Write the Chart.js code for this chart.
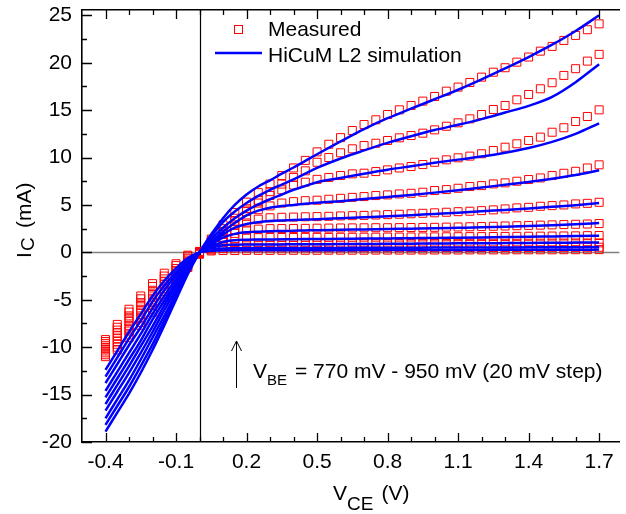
<!DOCTYPE html>
<html>
<head>
<meta charset="utf-8">
<script src="https://cdn.jsdelivr.net/npm/chart.js@4.4.1/dist/chart.umd.min.js"></script>
<style>
  html, body { margin: 0; padding: 0; background: #ffffff; }
  #wrap { width: 626px; height: 514px; }
</style>
</head>
<body>
<div id="wrap"><canvas id="c" width="626" height="514"></canvas></div>
<script>
// ---------- data ----------
const vbeLabels = ['770 mV','790 mV','810 mV','830 mV','850 mV','870 mV','890 mV','910 mV','930 mV','950 mV'];

const xTickVals   = [-0.4, -0.1, 0.2, 0.5, 0.8, 1.1, 1.4, 1.7];
const xTickLabels = ['-0.4', '-0.1', '0.2', '0.5', '0.8', '1.1', '1.4', '1.7'];
const yTickVals   = [-20, -15, -10, -5, 0, 5, 10, 15, 20, 25];
const yTickLabels = ['-20', '-15', '-10', '-5', '0', '5', '10', '15', '20', '25'];

// Measured VCE points (V)
const measX = [-0.4,-0.35,-0.3,-0.25,-0.2,-0.15,-0.1,-0.05,0,
  0.05,0.1,0.15,0.2,0.25,0.3,0.35,0.4,0.45,0.5,0.55,0.6,0.65,0.7,0.75,0.8,0.85,0.9,0.95,1.0,
  1.05,1.1,1.15,1.2,1.25,1.3,1.35,1.4,1.45,1.5,1.55,1.6,1.65,1.7];

// Measured IC (mA), one array per VBE
const meas770 = [-9.2,-7.6,-6.0,-4.6,-3.3,-2.2,-1.2,-0.3,0.1,
  0.15,0.2,0.2,0.21,0.21,0.21,0.22,0.22,0.22,0.22,0.23,0.23,0.23,0.23,0.24,0.24,0.24,0.24,0.25,0.25,
  0.25,0.25,0.26,0.26,0.26,0.26,0.27,0.27,0.27,0.27,0.28,0.28,0.28,0.29];
const meas790 = [-9.4,-7.9,-6.3,-4.9,-3.6,-2.5,-1.4,-0.4,0.05,
  0.25,0.42,0.46,0.47,0.47,0.47,0.47,0.48,0.48,0.48,0.48,0.48,0.49,0.49,0.49,0.49,0.49,0.5,0.5,0.5,
  0.5,0.51,0.51,0.51,0.51,0.52,0.52,0.52,0.52,0.53,0.53,0.53,0.54,0.54];
const meas810 = [-9.6,-8.2,-6.7,-5.3,-4.0,-2.8,-1.7,-0.6,0,
  0.35,0.75,0.86,0.88,0.89,0.89,0.9,0.9,0.9,0.91,0.91,0.91,0.92,0.92,0.92,0.93,0.93,0.93,0.94,0.94,
  0.94,0.95,0.95,0.95,0.96,0.96,0.96,0.97,0.97,0.98,0.98,0.99,0.99,1.0];
const meas830 = [-9.8,-8.5,-7.0,-5.6,-4.3,-3.1,-1.9,-0.7,0,
  0.45,1.1,1.45,1.53,1.55,1.56,1.57,1.57,1.58,1.58,1.58,1.59,1.59,1.6,1.6,1.61,1.61,1.62,1.63,1.63,
  1.64,1.65,1.66,1.66,1.67,1.68,1.69,1.7,1.71,1.72,1.73,1.74,1.76,1.78];
const meas850 = [-10.0,-8.8,-7.3,-6.0,-4.6,-3.4,-2.2,-0.9,-0.05,
  0.5,1.3,2.0,2.35,2.45,2.5,2.51,2.52,2.53,2.55,2.56,2.57,2.58,2.59,2.6,2.6,2.61,2.62,2.63,2.64,
  2.66,2.68,2.7,2.72,2.75,2.78,2.81,2.84,2.87,2.9,2.93,2.96,2.99,3.04];
const meas870 = [-10.2,-9.1,-7.7,-6.3,-5.0,-3.8,-2.4,-1.0,-0.05,
  0.6,1.5,2.4,3.1,3.5,3.65,3.7,3.72,3.75,3.77,3.8,3.84,3.87,3.9,3.94,3.98,4.02,4.07,4.12,4.17,
  4.23,4.29,4.34,4.4,4.48,4.58,4.69,4.75,4.86,4.93,5.0,5.11,5.17,5.28];
const meas890 = [-10.4,-9.4,-8.0,-6.7,-5.3,-4.1,-2.6,-1.2,-0.1,
  0.8,1.9,2.9,3.8,4.5,4.9,5.2,5.35,5.45,5.5,5.6,5.7,5.8,5.88,5.99,6.06,6.16,6.23,6.34,6.52,
  6.62,6.76,6.94,7.04,7.22,7.33,7.5,7.68,7.85,8.1,8.34,8.55,8.9,9.23];
const meas910 = [-10.6,-9.7,-8.3,-7.0,-5.6,-4.4,-2.9,-1.3,-0.1,
  1.0,2.2,3.3,4.3,5.2,6.0,6.6,7.1,7.4,7.7,7.9,8.1,8.28,8.35,8.52,8.7,8.9,9.05,9.26,9.5,
  9.76,9.97,10.15,10.4,10.74,11.09,11.45,11.8,12.15,12.67,13.14,13.8,14.33,15.03];
const meas930 = [-10.8,-10.0,-8.7,-7.4,-6.0,-4.7,-3.1,-1.5,-0.15,
  1.2,2.5,3.6,4.6,5.5,6.4,7.2,7.9,8.6,9.5,10.0,10.5,10.92,11.27,11.51,11.8,12.08,12.32,12.57,12.92,
  13.3,13.66,14.08,14.54,15.07,15.49,16.09,16.65,17.25,17.89,18.66,19.37,20.17,20.88];
const meas950 = [-11.0,-10.3,-9.0,-7.7,-6.3,-5.0,-3.4,-1.6,-0.2,
  1.4,2.9,4.2,5.3,6.3,7.2,8.1,8.9,9.7,10.6,11.4,12.1,12.85,13.48,13.98,14.54,15.03,15.49,15.95,16.44,
  17.0,17.43,17.92,18.48,19.0,19.47,20.06,20.6,21.22,21.72,22.35,22.88,23.48,24.1];

// Simulation VCE points (V)
const simX = [-0.4,-0.35,-0.3,-0.25,-0.2,-0.15,-0.1,-0.05,0,
  0.025,0.05,0.1,0.15,0.2,0.25,0.3,0.35,0.4,0.45,0.5,
  0.6,0.7,0.8,0.9,1.0,1.1,1.2,1.3,1.4,1.5,1.6,1.7];

// HiCuM L2 simulated IC (mA), one array per VBE
const sim770 = [-12.4,-10.4,-8.4,-6.5,-4.6,-3.0,-1.7,-0.6,0,
  0.1,0.17,0.2,0.21,0.21,0.21,0.22,0.22,0.22,0.22,0.23,
  0.23,0.24,0.24,0.25,0.25,0.26,0.26,0.27,0.27,0.28,0.28,0.29];
const sim790 = [-13.1,-11.1,-9.1,-7.2,-5.2,-3.5,-2.1,-0.8,0,
  0.2,0.35,0.42,0.44,0.45,0.45,0.46,0.46,0.46,0.46,0.47,
  0.47,0.48,0.48,0.49,0.5,0.5,0.51,0.52,0.53,0.54,0.55,0.56];
const sim810 = [-13.8,-11.8,-9.8,-7.9,-5.9,-4.0,-2.4,-1.0,0,
  0.25,0.5,0.75,0.8,0.82,0.83,0.84,0.84,0.85,0.85,0.86,
  0.88,0.89,0.9,0.92,0.93,0.95,0.96,0.98,1.0,1.01,1.03,1.05];
const sim830 = [-14.6,-12.6,-10.6,-8.6,-6.5,-4.6,-2.8,-1.2,0,
  0.3,0.6,1.1,1.28,1.33,1.35,1.36,1.37,1.39,1.4,1.41,
  1.43,1.45,1.47,1.5,1.52,1.55,1.58,1.61,1.64,1.68,1.72,1.76];
const sim850 = [-15.3,-13.3,-11.3,-9.3,-7.1,-5.1,-3.2,-1.4,0,
  0.4,0.8,1.55,1.95,2.12,2.18,2.22,2.25,2.28,2.31,2.34,
  2.38,2.42,2.46,2.5,2.54,2.59,2.64,2.7,2.78,2.86,2.96,3.1];
const sim870 = [-16.0,-14.0,-12.0,-9.9,-7.8,-5.6,-3.5,-1.5,0,
  0.45,0.95,1.9,2.6,3.0,3.18,3.3,3.37,3.42,3.46,3.5,
  3.6,3.7,3.8,3.92,4.05,4.18,4.33,4.48,4.63,4.8,4.98,5.2];
const sim890 = [-16.7,-14.7,-12.7,-10.6,-8.4,-6.1,-3.9,-1.7,0,
  0.55,1.1,2.2,3.1,3.9,4.4,4.7,4.88,5.0,5.12,5.22,
  5.4,5.62,5.84,6.06,6.3,6.56,6.84,7.12,7.42,7.76,8.16,8.65];
const sim910 = [-17.5,-15.5,-13.5,-11.3,-9.0,-6.7,-4.3,-1.9,0,
  0.7,1.4,2.6,3.6,4.4,5.05,5.6,6.1,6.6,7.0,7.4,
  7.85,8.3,8.72,9.08,9.44,9.78,10.1,10.5,11.0,11.65,12.5,13.6];
const sim930 = [-18.2,-16.2,-14.2,-12.0,-9.7,-7.2,-4.6,-2.1,0,
  0.9,1.7,3.2,4.3,5.2,5.95,6.6,7.15,7.7,8.3,8.9,
  9.9,10.75,11.55,12.25,12.9,13.45,14.05,14.75,15.45,16.4,17.95,19.85];
const sim950 = [-18.9,-16.9,-14.9,-12.7,-10.3,-7.7,-5.0,-2.3,0,
  1.0,1.9,3.6,5.0,6.1,6.95,7.6,8.3,8.95,9.65,10.35,
  11.7,13.0,14.15,15.15,16.15,17.15,18.25,19.4,20.6,21.9,23.35,25.0];

const measSeries = [meas770, meas790, meas810, meas830, meas850, meas870, meas890, meas910, meas930, meas950];
const simSeries  = [sim770, sim790, sim810, sim830, sim850, sim870, sim890, sim910, sim930, sim950];

// ---------- chart ----------
const FONT = '"Liberation Sans", Arial, Helvetica, sans-serif';
const X_MIN = -0.5, X_MAX = 1.786, Y_MIN = -20, Y_MAX = 25.56;

const datasets = [];
simSeries.forEach((s, i) => {
  datasets.push({
    label: 'HiCuM L2 simulation ' + vbeLabels[i],
    data: simX.map((x, j) => ({ x: x, y: s[j] })),
    showLine: true,
    borderColor: '#0000ff',
    borderWidth: 2.5,
    pointRadius: 0,
    cubicInterpolationMode: 'monotone',
    order: 0
  });
});
measSeries.forEach((s, i) => {
  datasets.push({
    label: 'Measured ' + vbeLabels[i],
    data: measX.map((x, j) => ({ x: x, y: s[j] })),
    showLine: false,
    pointStyle: 'rect',
    pointRadius: 5.66,
    borderColor: '#ff0000',
    backgroundColor: 'rgba(0,0,0,0)',
    borderWidth: 1,
    order: 1
  });
});

function drawSub(ctx, parts) {
  parts.forEach(p => {
    ctx.font = p[3] + 'px ' + FONT;
    ctx.fillText(p[0], p[1], p[2]);
  });
}

const decor = {
  id: 'decor',
  beforeDatasetsDraw(chart) {
    const { ctx, chartArea: a, scales } = chart;
    const x = scales.x, y = scales.y;
    ctx.save();
    const y0 = Math.round(y.getPixelForValue(0)) + 0.5;
    ctx.strokeStyle = '#808080';
    ctx.lineWidth = 1.6;
    ctx.beginPath(); ctx.moveTo(a.left, y0); ctx.lineTo(a.right, y0); ctx.stroke();
    const x0 = Math.round(x.getPixelForValue(0)) + 0.5;
    ctx.strokeStyle = '#000000';
    ctx.lineWidth = 1.2;
    ctx.beginPath(); ctx.moveTo(x0, a.top); ctx.lineTo(x0, a.bottom); ctx.stroke();
    ctx.restore();
  },
  afterDraw(chart) {
    const { ctx, chartArea: a, scales } = chart;
    const x = scales.x, y = scales.y;
    ctx.save();
    ctx.strokeStyle = '#000';
    ctx.lineWidth = 1.3;
    ctx.beginPath();
    for (let k = -4; k <= 17; k++) {
      const v = k / 10;
      const px = Math.round(x.getPixelForValue(v)) + 0.5;
      const major = xTickVals.some(t => Math.abs(t - v) < 1e-6);
      const len = major ? 9 : 5;
      ctx.moveTo(px, a.bottom); ctx.lineTo(px, a.bottom - len);
      ctx.moveTo(px, a.top); ctx.lineTo(px, a.top + len);
    }
    for (let k = -8; k <= 10; k++) {
      const v = k * 2.5;
      const py = Math.round(y.getPixelForValue(v)) + 0.5;
      const major = yTickVals.indexOf(v) >= 0;
      const len = major ? 10 : 5;
      ctx.moveTo(a.left, py); ctx.lineTo(a.left + len, py);
    }
    ctx.stroke();

    // legend
    ctx.fillStyle = '#000';
    ctx.textBaseline = 'alphabetic';
    ctx.textAlign = 'left';
    ctx.strokeStyle = '#ff0000';
    ctx.lineWidth = 1;
    ctx.strokeRect(234.5, 25.5, 8, 8);
    ctx.font = '21px ' + FONT;
    ctx.fillText('Measured', 268, 35.5);
    ctx.strokeStyle = '#0000ff';
    ctx.lineWidth = 2.5;
    ctx.beginPath(); ctx.moveTo(215, 53); ctx.lineTo(262, 53); ctx.stroke();
    ctx.fillText('HiCuM L2 simulation', 268, 61.5);

    // annotation arrow + text
    ctx.strokeStyle = '#000';
    ctx.lineWidth = 1;
    ctx.beginPath();
    ctx.moveTo(236.5, 388); ctx.lineTo(236.5, 341);
    ctx.moveTo(231.5, 351); ctx.lineTo(236.5, 341); ctx.lineTo(241.5, 351);
    ctx.stroke();
    drawSub(ctx, [['V', 253, 378, 21], ['BE', 267, 385, 15], ['= 770 mV - 950 mV (20 mV step)', 295, 378, 21]]);

    // x title
    drawSub(ctx, [['V', 333, 500, 21], ['CE', 347, 510, 19], ['(V)', 381.5, 500, 21]]);

    // y title (rotated)
    ctx.translate(31, 258);
    ctx.rotate(-Math.PI / 2);
    drawSub(ctx, [['I', 0, 0, 21], ['C', 7, 3, 19], ['(mA)', 30, 0, 21]]);
    ctx.restore();
  }
};

new Chart(document.getElementById('c'), {
  type: 'scatter',
  data: { datasets: datasets },
  options: {
    responsive: false,
    animation: false,
    devicePixelRatio: 1,
    layout: { padding: { top: 10, right: 0, bottom: 0, left: 0 } },
    plugins: { legend: { display: false }, tooltip: { enabled: false } },
    scales: {
      x: {
        type: 'linear', position: 'bottom', min: X_MIN, max: X_MAX,
        grid: { display: false, drawTicks: false },
        border: { display: true, color: '#000', width: 1.6 },
        ticks: {
          padding: 8, color: '#000', font: { family: FONT, size: 21 },
          maxRotation: 0, autoSkip: false,
          callback: (v, i) => xTickLabels[i]
        },
        afterBuildTicks: s => { s.ticks = xTickVals.map(v => ({ value: v })); },
        afterFit: s => { s.height = 72; s.paddingLeft = 0; s.paddingRight = 0; }
      },
      x2: {
        type: 'linear', position: 'top', min: X_MIN, max: X_MAX,
        grid: { display: false, drawTicks: false },
        border: { display: true, color: '#000', width: 1.6 },
        ticks: { display: false },
        afterFit: s => { s.height = 0; s.paddingLeft = 0; s.paddingRight = 0; }
      },
      y: {
        type: 'linear', position: 'left', min: Y_MIN, max: Y_MAX,
        grid: { display: false, drawTicks: false },
        border: { display: true, color: '#000', width: 1.6 },
        ticks: {
          padding: 10, color: '#000', font: { family: FONT, size: 21 },
          autoSkip: false,
          callback: (v, i) => yTickLabels[i]
        },
        afterBuildTicks: s => { s.ticks = yTickVals.map(v => ({ value: v })); },
        afterFit: s => { s.width = 82; s.paddingTop = 0; s.paddingBottom = 0; }
      }
    }
  },
  plugins: [decor]
});
</script>
</body>
</html>
